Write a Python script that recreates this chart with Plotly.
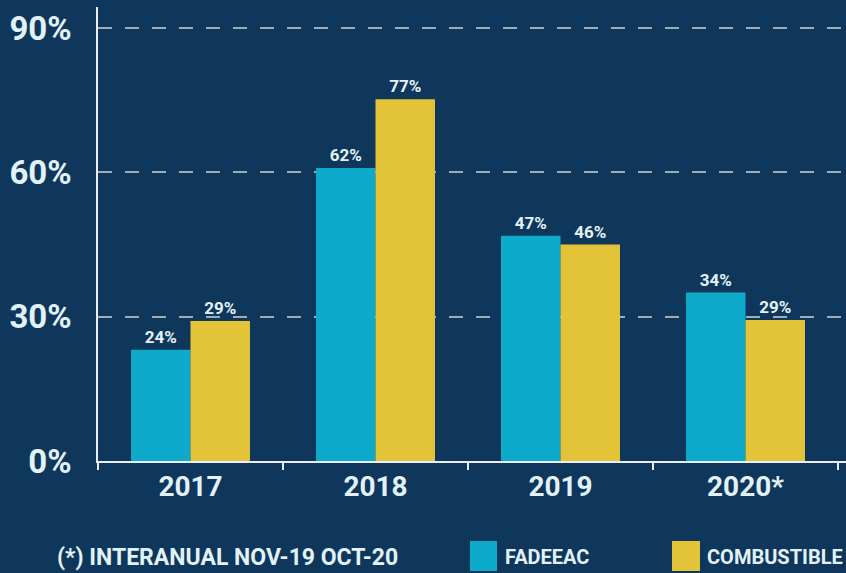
import plotly.graph_objects as go

# ---- data ----
years = ["2017", "2018", "2019", "2020*"]
fadeeac = [23.1, 60.9, 46.8, 35.0]
combustible = [29.1, 75.2, 45.0, 29.3]
fadeeac_labels = ["24%", "62%", "47%", "34%"]
combustible_labels = ["29%", "77%", "46%", "29%"]
y_ticks = [0, 30, 60, 90]
y_tick_labels = ["0%", "30%", "60%", "90%"]
series_names = ["FADEEAC", "COMBUSTIBLE"]
footnote = "(*) INTERANUAL NOV-19 OCT-20"

# ---- style ----
BG = "#0f365b"
CYAN = "#0eaacc"
YELLOW = "#e3c338"
TXT = "#e2f2f9"
FONT = "Roboto, Liberation Sans, sans-serif"

W, H = 846, 573
ML, MR, MT, MB = 98, 0, 7, 112
PW = W - ML - MR
PH = H - MT - MB


def px_x(p):
    return (p - ML) / PW


def px_y(p):
    return (H - MB - p) / PH


fig = go.Figure()
fig.add_trace(go.Bar(
    x=years, y=fadeeac, name=series_names[0], marker=dict(color=CYAN, line=dict(width=0)),
    text=fadeeac_labels, textposition="outside",
    textfont=dict(family=FONT, size=17, color=TXT, weight="bold"), cliponaxis=False, showlegend=False,
))
fig.add_trace(go.Bar(
    x=years, y=combustible, name=series_names[1], marker=dict(color=YELLOW, line=dict(width=0)),
    text=combustible_labels, textposition="outside",
    textfont=dict(family=FONT, size=17, color=TXT, weight="bold"), cliponaxis=False, showlegend=False,
))

shapes = [
    dict(type="rect", xref="paper", yref="paper",
         x0=px_x(470), x1=px_x(497), y0=px_y(571), y1=px_y(541),
         fillcolor=CYAN, line=dict(width=0)),
    dict(type="rect", xref="paper", yref="paper",
         x0=px_x(672), x1=px_x(700), y0=px_y(571), y1=px_y(541),
         fillcolor=YELLOW, line=dict(width=0)),
]
foot_font = dict(family=FONT, size=23, color=TXT, weight="bold")
leg_font = dict(family=FONT, size=20, color=TXT, weight="bold")
annotations = [
    dict(text=footnote, xref="paper", yref="paper", x=px_x(55), y=px_y(557),
         xanchor="left", yanchor="middle", showarrow=False, font=foot_font),
    dict(text=series_names[0], xref="paper", yref="paper", x=px_x(503), y=px_y(557),
         xanchor="left", yanchor="middle", showarrow=False, font=leg_font),
    dict(text=series_names[1], xref="paper", yref="paper", x=px_x(705), y=px_y(557),
         xanchor="left", yanchor="middle", showarrow=False, font=leg_font),
]

fig.update_layout(
    width=W, height=H,
    margin=dict(l=ML, r=MR, t=MT, b=MB, autoexpand=False),
    paper_bgcolor=BG, plot_bgcolor=BG,
    barmode="group", bargap=0.357, bargroupgap=0,
    showlegend=False,
    shapes=shapes, annotations=annotations,
    font=dict(family=FONT, color=TXT),
)
fig.update_xaxes(
    type="category", range=[-0.5, -0.5 + PW / 185.0], automargin=False,
    showline=True, linecolor="#e8eef3", linewidth=1.5,
    ticks="outside", tickson="boundaries", ticklen=7, tickcolor="#e8eef3", tickwidth=1.5,
    showgrid=False,
    tickfont=dict(family=FONT, size=28, color=TXT, weight="bold"),
)
fig.update_yaxes(
    range=[0, PH / 4.811], automargin=False,
    tickvals=y_ticks, ticktext=y_tick_labels,
    showline=True, linecolor="#e8eef3", linewidth=1.5,
    showgrid=True, gridcolor="#a3abb4", gridwidth=1.5, griddash="14px,13px",
    zeroline=False, ticks="", ticklabelstandoff=18,
    tickfont=dict(family=FONT, size=33, color=TXT, weight="bold"),
)

fig.write_html(
    "out.html",
    config={"displayModeBar": False},
    post_script="document.body.style.margin='0px';document.body.style.overflow='hidden';",
)
